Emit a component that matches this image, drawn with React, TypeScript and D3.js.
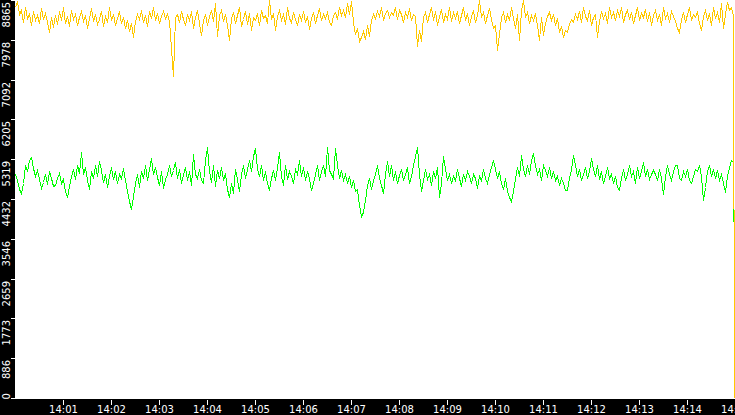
import React from "react";
import * as d3 from "d3";

const W = 735;
const H = 415;
const startTime = new Date(2024, 0, 1, 14, 0, 0);
const endTime = new Date(2024, 0, 1, 14, 15, 0);
const yMax = 8865;
const yTickLabels = [0, 886, 1773, 2659, 3546, 4432, 5319, 6205, 7092, 7978, 8865];

const yellowSeries = [
  8720, 8850, 8560, 8640, 8380, 8700, 8470, 8560, 8300, 8620, 8410, 8520, 8350, 8690, 8450, 8580, 8370, 8150, 8480, 8260,
  8540, 8330, 8610, 8420, 8700, 8360, 8510, 8280, 8640, 8450, 8560, 8310, 8480, 8620, 8390, 8530, 8250, 8470, 8680, 8400,
  8560, 8330, 8450, 8620, 8290, 8500, 8380, 8700, 8420, 8560, 8300, 8470, 8610, 8350, 8490, 8250, 8420, 8180, 8360, 8040,
  8390, 8560, 8440, 8650, 8380, 8520, 8290, 8610, 8460, 8700, 8420, 8580, 8350, 8500, 8620, 8470, 8550, 8400, 7790, 7170,
  8480, 8560, 8380, 8620, 8450, 8300, 8550, 8420, 8610, 8240, 8480, 8650, 8360, 8080, 8420, 8560, 8310, 8500, 8640, 8390,
  8800, 8060, 8520, 8650, 8400, 8560, 8300, 7970, 8460, 8600, 8350, 8520, 8700, 8280, 8450, 8620, 8330, 8570, 8200, 8480,
  8410, 8580, 8300, 8650, 8460, 8520, 8350, 8865, 8440, 8580, 8200, 8500, 8650, 8420, 8560, 8330, 8700, 8470, 8380, 8600,
  8450, 8300, 8560, 8420, 8620, 8380, 8500, 8220, 8470, 8600, 8350, 8540, 8680, 8410, 8550, 8460, 8600, 8380, 8310, 8520,
  8600, 8450, 8700, 8520, 8650, 8480, 8800, 8560, 8850, 8380, 8100, 8250, 7950, 8050, 8180, 8000, 8300, 8060, 8420, 8550,
  8460, 8620, 8500, 8700, 8430, 8580, 8650, 8480, 8600, 8520, 8720, 8450, 8640, 8560, 8380, 8600, 8490, 8680, 8420, 8560,
  8500, 7840, 8200, 7950, 8480, 8600, 8380, 8550, 8700, 8420, 8620, 8300, 8500, 8660, 8380, 8560, 8450, 8720, 8400, 8590,
  8460, 8620, 8350, 8540, 8700, 8420, 8580, 8300, 8500, 8650, 8380, 8540, 8860, 8480, 8600, 8350, 8520, 8680, 8440, 8250,
  8300, 7750, 8100, 8480, 8600, 8380, 8550, 8420, 8700, 8460, 8250, 8560, 7970, 8650, 8860, 8480, 8600, 8350, 8520, 8420,
  8580, 8300, 7970, 8480, 8080, 8350, 8500, 8600, 8420, 8560, 8300, 8470, 8150, 8280, 8050, 8200, 8150, 8320, 8440, 8380,
  8560, 8450, 8620, 8380, 8700, 8500, 8420, 8650, 8300, 8480, 8550, 8040, 8400, 8620, 8460, 8580, 8350, 8700, 8480, 8600,
  8420, 8650, 8500, 8720, 8380, 8560, 8640, 8450, 8600, 8350, 8520, 8700, 8430, 8580, 8480, 8660, 8400, 8600, 8300, 8520,
  8650, 8420, 8560, 8300, 8700, 8460, 8580, 8380, 8620, 8500, 8400, 8250, 8150, 8450, 8600, 8380, 8550, 8700, 8420, 8560,
  8480, 8620, 8350, 8200, 8500, 8640, 8420, 8580, 8300, 8700, 8460, 8600, 8380, 8800, 8250, 8550, 8820, 8650, 8700, 8500, 0,
];

const greenSeries = [
  5000, 4860, 4650, 4560, 4800, 5180, 5050, 5300, 5360, 5120, 4950, 5080, 4880, 4670, 4820, 4980, 4760, 5050, 4900, 4720,
  4740, 4900, 5010, 4780, 4870, 4600, 4466, 4720, 4950, 5100, 4880, 5200, 5020, 5470, 4980, 5150, 4850, 4660, 5050, 4900,
  5180, 4950, 5290, 5080, 4820, 5000, 4700, 4950, 5150, 4880, 5050, 4780, 5000, 4900, 5120, 4850, 4600, 4380, 4220, 4500,
  4800, 4980, 4700, 5050, 4900, 5200, 4850, 5100, 5337, 5000, 5150, 4920, 4750, 5050, 4680, 4880, 5000, 5180, 4950, 5080,
  5250, 4900, 5100, 4800, 4980, 5150, 4850, 5050, 4750, 5426, 5000, 4900, 5100, 4850, 4780, 5300, 5583, 5050, 4820, 5200,
  4730, 5080, 4900, 5150, 4850, 5020, 4650, 4466, 4800, 4560, 5100, 4880, 4620, 5000, 5200, 4900, 5100, 5300, 5050, 5380,
  5560, 5100, 4950, 5200, 4850, 5050, 4780, 4622, 4900, 5080, 4850, 5150, 5470, 4950, 4734, 5200, 4880, 5050, 4950, 4800,
  5100, 5000, 5292, 4950, 5150, 4846, 5050, 4900, 4622, 4780, 5000, 5200, 4850, 5050, 5180, 4950, 5583, 5080, 5000, 4900,
  5560, 5180, 4900, 5069, 4850, 5000, 4780, 4950, 4700, 4850, 4600, 4650, 4300, 4064, 4150, 4400, 4734, 4900, 4650, 4850,
  5000, 5180, 4900, 4750, 4560, 5000, 5290, 4950, 5180, 4850, 5050, 4780, 4960, 5100, 4860, 5000, 5150, 4800, 4950, 5200,
  5400, 5583, 5000, 4600, 4850, 5100, 4880, 5000, 4750, 5050, 4900, 5150, 4466, 4800, 5400, 5100, 4850, 5000, 4780, 4950,
  4846, 5100, 4900, 4720, 5000, 4850, 5050, 4950, 4800, 5000, 4900, 4680, 4950, 4850, 5100, 4900, 4780, 5000, 5150, 5292,
  5100, 4900, 5050, 4800, 4650, 4900, 4620, 4480, 4377, 4600, 4900, 5150, 4950, 5404, 5100, 4950, 5200, 5000, 5300, 5450,
  5200, 5000, 5100, 4850, 5180, 5069, 4950, 5150, 4900, 5050, 4846, 4950, 4750, 4900, 4800, 4640, 4622, 4900, 5100, 5404,
  5200, 4950, 5100, 4850, 5000, 5150, 4900, 5050, 5337, 5100, 4950, 5200, 4880, 5050, 4800, 4950, 5150, 4900, 5000, 4780,
  4950, 4700, 4622, 4900, 5100, 4850, 5000, 5200, 4950, 5050, 4800, 5150, 4900, 5050, 5250, 4950, 5100, 4880, 5000, 5069,
  5000, 4850, 5100, 4900, 4550, 4950, 5180, 5000, 4850, 5050, 5200, 5180, 4900, 4846, 5050, 4950, 5100, 4850, 4800, 4950,
  5100, 5050, 5180, 4950, 4400, 4700, 5050, 5200, 4950, 5100, 4900, 5069, 4850, 5000, 4780, 4580, 4950, 5150, 5292, 5250, 2650,
];

const PLOT_LEFT = 15;
const PLOT_BOTTOM = 398;

export default function App() {
  const x = d3.scaleTime().domain([startTime, endTime]).range([PLOT_LEFT, W]);
  const y = d3.scaleLinear().domain([0, yMax]).range([PLOT_BOTTOM, 0]);

  const timeAt = (i: number, n: number) =>
    new Date(startTime.getTime() + (i * (endTime.getTime() - startTime.getTime())) / (n - 1));

  const makePath = (arr: number[]) =>
    d3
      .line<number>()
      .x((_, i) => Math.min(Math.round(x(timeAt(i, arr.length))), W - 1) + 0.5)
      .y((d) => Math.round(y(d)) + 0.5)(arr) || "";

  const xTicks = x.ticks(d3.timeMinute.every(1) as any).filter((d) => d > startTime);
  const fmt = d3.timeFormat("%H:%M");
  const font = "'DejaVu Sans', sans-serif";

  return (
    <svg
      width={W}
      height={H}
      style={{ position: "fixed", left: 0, top: 0, display: "block" }}
    >
      <defs>
        <clipPath id="plotClip">
          <rect x={PLOT_LEFT} y={0} width={W - PLOT_LEFT} height={PLOT_BOTTOM + 1} />
        </clipPath>
      </defs>
      <rect x={0} y={0} width={W} height={H} fill="#ffffff" />
      <g clipPath="url(#plotClip)">
        <path d={makePath(greenSeries)} fill="none" stroke="#00ff00" strokeWidth={1} shapeRendering="crispEdges" />
        <path d={makePath(yellowSeries)} fill="none" stroke="#ffc800" strokeWidth={1} shapeRendering="crispEdges" />
      </g>
      <rect x={0} y={0} width={PLOT_LEFT} height={H} fill="#000000" />
      <rect x={0} y={PLOT_BOTTOM + 1} width={W} height={H - PLOT_BOTTOM - 1} fill="#000000" />
      {yTickLabels.map((v) => {
        const yy = Math.round(y(v)) + 0.5;
        const isZero = v === 0;
        return (
          <g key={"y" + v}>
            <line x1={11} x2={15} y1={yy} y2={yy} stroke="#ffffff" strokeWidth={1} shapeRendering="crispEdges" />
            <text
              transform={`translate(10,${isZero ? yy + 1 : yy + 1.5}) rotate(-90)`}
              textAnchor={isZero ? "start" : "end"}
              fill="#ffffff"
              fontFamily={font}
              fontSize={10}
            >
              {v}
            </text>
          </g>
        );
      })}
      {xTicks.map((d) => {
        const xx = Math.round(x(d)) + 0.5;
        return (
          <g key={"x" + d.getTime()}>
            <line x1={xx} x2={xx} y1={400} y2={405} stroke="#ffffff" strokeWidth={1} shapeRendering="crispEdges" />
            <text x={xx} y={413} textAnchor="middle" fill="#ffffff" fontFamily={font} fontSize={10}>
              {fmt(d)}
            </text>
          </g>
        );
      })}
    </svg>
  );
}
